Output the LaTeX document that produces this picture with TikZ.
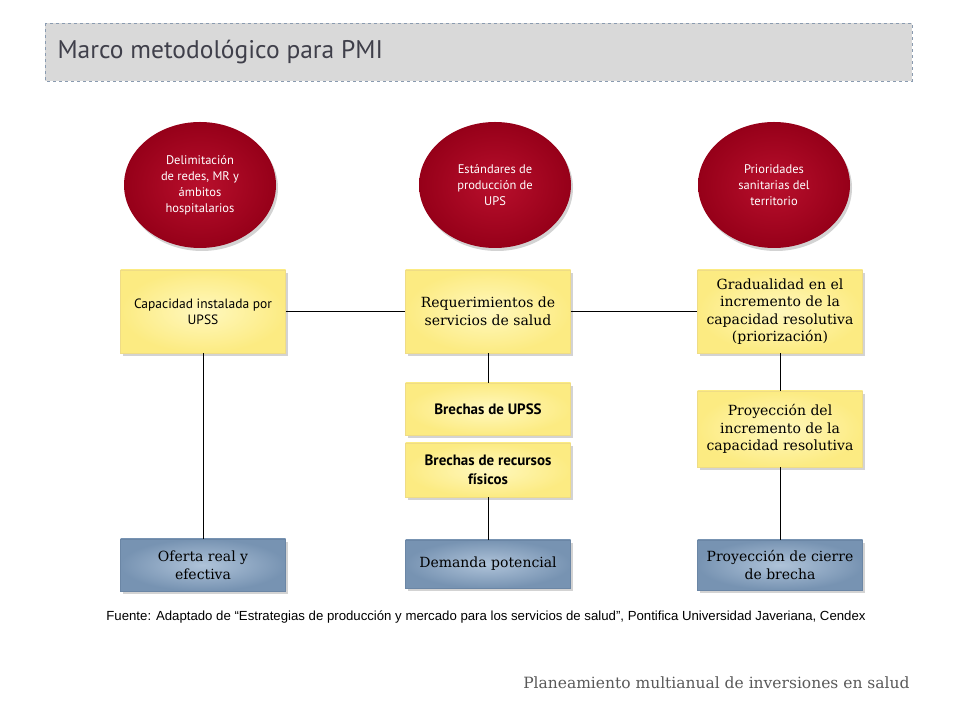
\documentclass[tikz,border=0pt]{standalone}
\usepackage{fontspec}
\setmainfont{DejaVu Serif}
\newfontfamily\gill{PT Sans}
\newfontfamily\arial{Liberation Sans}
\usetikzlibrary{shapes,shadows}

\definecolor{rojo}{HTML}{960019}
\definecolor{rojoclaro}{HTML}{B80F2C}
\definecolor{amar}{HTML}{FCEB82}
\definecolor{amarclaro}{HTML}{FFF8BE}
\definecolor{amarborde}{HTML}{EFDC86}
\definecolor{azul}{HTML}{7793B2}
\definecolor{azulclaro}{HTML}{AFC3D9}
\definecolor{azulborde}{HTML}{6B86A5}
\definecolor{barra}{HTML}{D9D9D9}
\definecolor{barraborde}{HTML}{8A9BB0}
\definecolor{titulo}{HTML}{3F3F4A}

\begin{document}
\begin{tikzpicture}[x=1pt,y=1pt,
      sombra/.style={drop shadow={shadow xshift=2pt,shadow yshift=-3pt,opacity=0.35}},
      elip/.style={ellipse,minimum width=152pt,minimum height=126pt,
        inner color=rojoclaro,outer color=rojo,text=white,align=center,
        font=\gill\fontsize{12.5}{16}\selectfont,sombra},
      amarillo/.style={rectangle,draw=amarborde,inner color=amarclaro,outer color=amar,
        minimum width=165pt,align=center,font=\fontsize{14}{17.5}\selectfont,sombra},
      azul/.style={rectangle,draw=azulborde,inner color=azulclaro,outer color=azul,
        minimum width=165pt,minimum height=50pt,align=center,
        font=\fontsize{14}{18}\selectfont,sombra}]
    \useasboundingbox (0,0) rectangle (960,720);

    % barra del titulo
    \draw[barraborde,dashed,fill=barra] (45,697) rectangle (912,639);
    \node[anchor=west,text=titulo,font=\gill\fontsize{25.5}{30}\selectfont](tit) at (54,668){Marco metodológico para PMI};

    % elipses
    \node[elip](e1) at (200,535){Delimitación\\de redes, MR y\\ámbitos\\hospitalarios};
    \node[elip](e2) at (495,535){Estándares de\\producción de\\UPS};
    \node[elip](e3) at (774,535){Prioridades\\sanitarias del\\territorio};

    % fila superior
    \node[amarillo,minimum height=83pt,font=\gill\fontsize{13.5}{16}\selectfont](n1) at (203,408.5){Capacidad instalada por\\UPSS};
    \node[amarillo,minimum height=83pt](n2) at (488,408.5){Requerimientos de\\servicios de salud};
    \node[amarillo,minimum height=83pt](n3) at (780,408.5){Gradualidad en el\\incremento de la\\capacidad resolutiva\\(priorización)};

    % columna central
    \node[amarillo,minimum height=52pt,font=\gill\bfseries\fontsize{15}{19}\selectfont,
      below of=n2,node distance=97.5pt](n4){Brechas de UPSS};
    \node[amarillo,minimum height=54pt,font=\gill\bfseries\fontsize{15}{19}\selectfont,
      below of=n4,node distance=61pt](n5){Brechas de recursos\\físicos};
    \node[azul,minimum height=48pt,below of=n5,node distance=94pt](n6){Demanda potencial};

    % columna derecha
    \node[amarillo,minimum height=76pt,below of=n3,node distance=117.5pt](n7){Proyección del\\incremento de la\\capacidad resolutiva};
    \node[azul,below of=n7,node distance=136pt](n8){Proyección de cierre\\de brecha};

    % columna izquierda
    \node[azul,minimum height=52pt,below of=n1,node distance=253.5pt](n9){Oferta real y\\efectiva};

    \draw (n1.east) -- (n2.west);
    \draw (n2.east) -- (n3.west);
    \draw (n1.south) -- (n9.north);
    \draw (n2.south) -- (n4.north);
    \draw (n5.south) -- (n6.north);
    \draw (n3.south) -- (n7.north);
    \draw (n7.south) -- (n8.north);

    \node[font=\arial\fontsize{13.2}{15}\selectfont](fuente) at (486,103){Fuente: Adaptado de “Estrategias de producción y mercado para los servicios de salud”, Pontifica Universidad Javeriana, Cendex};
    \node[anchor=east,text=black!65,font=\fontsize{15.5}{18}\selectfont](pie) at (913,37){Planeamiento multianual de inversiones en salud};
\end{tikzpicture}
\end{document}
